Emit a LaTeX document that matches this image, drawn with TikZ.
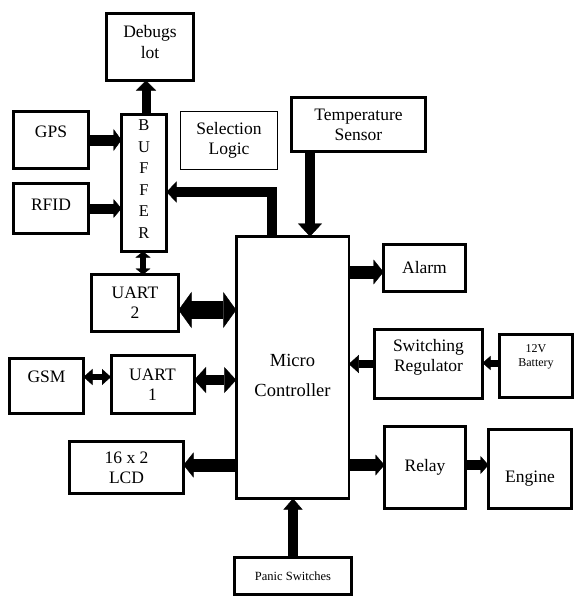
\documentclass[tikz,border=0pt]{standalone}
\usepackage{fontspec}
\setmainfont{Liberation Serif}
\usetikzlibrary{arrows.meta}
\newcommand\fsz[2]{\fontsize{#1}{#2}\selectfont}

\begin{document}
\begin{tikzpicture}[x=1pt,y=-1pt,
  box/.style={draw, line width=3pt, inner sep=0pt, outer sep=0pt, align=center, font=\fsz{17.5}{20}},
  sz/.style 2 args={minimum width=#1pt, minimum height=#2pt},
  txt/.style={inner sep=0pt, align=center, font=\fsz{17.5}{20}},
  fwd/.style n args={3}{line width=#1pt, -{Triangle[width=#2pt,length=#3pt,line width=0.4pt]}},
  twoway/.style n args={3}{line width=#1pt,
    {Triangle[width=#2pt,length=#3pt,line width=0.4pt]}-{Triangle[width=#2pt,length=#3pt,line width=0.4pt]}}]

\fill[white] (0,0) rectangle (582,597);
\useasboundingbox (0,0) rectangle (582,597);

% ---- blocks ----
\node[box, sz={87}{67}] (dbg) at (150,47) {};
\node[txt, font=\fsz{17.5}{21}] (dbgT) at ([yshift=5pt]dbg.center) {Debugs\\lot};

\node[box, sz={75}{57}] (gps) at (51,140) {};
\node[txt] (gpsT) at ([yshift=8pt]gps.center) {GPS};

\node[box, sz={75}{50}] (rfid) at (51,208.5) {};
\node[txt] (rfidT) at ([yshift=4pt]rfid.center) {RFID};

\node[box, sz={45}{137}] (buf) at (144,183) {};
\node[txt, font=\fsz{16.5}{21.5}] (bufT) at ([yshift=4pt]buf.center) {B\\U\\F\\F\\E\\R};

\node[box, line width=1pt, sz={97}{58}] (sel) at (229,140.5) {Selection\\Logic};

\node[box, sz={134}{54}] (temp) at (358.5,124.5) {Temperature\\Sensor};

\node[box, line width=2.5pt, sz={112.5}{262}] (mc) at (292.5,367.5) {};
\node[txt, font=\fsz{18.5}{30}] (mcT) at ([yshift=-7.5pt]mc.center) {Micro\\Controller};

\node[box, sz={87}{57}] (uart2) at (135,303) {UART\\2};

\node[box, sz={74}{55}] (gsm) at (46.5,386) {};
\node[txt] (gsmT) at ([yshift=9pt]gsm.center) {GSM};

\node[box, sz={83}{58}] (uart1) at (152.5,384.5) {UART\\1};

\node[box, sz={114}{52}] (lcd) at (126.5,467.5) {16 x 2\\LCD};

\node[box, sz={82}{47}] (alarm) at (424.5,268) {Alarm};

\node[box, sz={108}{69}] (sr) at (428.5,364) {};
\node[txt] (srT) at ([yshift=7pt]sr.center) {Switching\\Regulator};

\node[box, sz={73}{63}] (bat) at (536,366) {};
\node[txt, font=\fsz{12}{13.5}] (batT) at ([yshift=9pt]bat.center) {12V\\Battery};

\node[box, sz={81}{82}] (relay) at (425,467.5) {Relay};

\node[box, sz={83}{79}] (engine) at (530,469) {};
\node[txt] (engT) at ([yshift=-10pt]engine.center) {Engine};

\node[box, sz={117}{37}, font=\fsz{12.5}{14}] (panic) at (293,576) {Panic Switches};

% ---- connector end points ----
\coordinate (bufUp)   at ([xshift=2pt]buf.north);
\coordinate (bufDn)   at ([xshift=-1pt]buf.south);
\coordinate (mcTap)   at ([xshift=-20.5pt]mc.north);
\coordinate (bufIn)   at ([yshift=-9pt]buf.east);
\coordinate (u2Out)   at ([yshift=-7pt]uart2.east);
\coordinate (gsmOut)  at ([yshift=9pt]gsm.east);
\coordinate (u1Out)   at ([yshift=4.5pt]uart1.east);
\coordinate (lcdIn)   at ([yshift=2.5pt]lcd.east);
\coordinate (tempOut) at ([xshift=-48.5pt]temp.south);
\coordinate (alarmIn) at ([yshift=-4pt]alarm.west);
\coordinate (batOut)  at ([yshift=3pt]bat.west);
\coordinate (relayIn) at ([yshift=2.5pt]relay.west);
\coordinate (relayOut) at ([yshift=2.5pt]relay.east);

% ---- connectors ----
\draw[fwd={9}{20}{10}] (bufUp) -- (bufUp |- dbg.south);
\draw[fwd={11}{22}{8}] (gps.east) -- (gps.east -| buf.west);
\draw[fwd={10}{19}{8}] (rfid.east) -- (rfid.east -| buf.west);
\draw[fwd={10}{21}{10}] (mcTap) |- (bufIn);
\draw[twoway={6}{15}{6}] (bufDn) -- (bufDn |- uart2.north);
\draw[twoway={18}{36}{13}] (u2Out) -- (u2Out -| mc.west);
\draw[twoway={6}{16}{9}] (gsmOut) -- (gsmOut -| uart1.west);
\draw[twoway={10}{26}{12}] (u1Out) -- (u1Out -| mc.west);
\draw[fwd={13}{25}{10}] (lcdIn -| mc.west) -- (lcdIn);
\draw[fwd={10}{24}{13}] (tempOut) -- (tempOut |- mc.north);
\draw[fwd={13}{25}{10}] (alarmIn -| mc.east) -- (alarmIn);
\draw[fwd={8}{18}{10}] (sr.west) -- (sr.west -| mc.east);
\draw[fwd={7}{14}{8}] (batOut) -- (batOut -| sr.east);
\draw[fwd={12}{21}{9}] (relayIn -| mc.east) -- (relayIn);
\draw[fwd={10}{18}{8}] (relayOut) -- (relayOut -| engine.west);
\draw[fwd={10}{19}{11}] (panic.north) -- (panic.north |- mc.south);
\end{tikzpicture}
\end{document}
